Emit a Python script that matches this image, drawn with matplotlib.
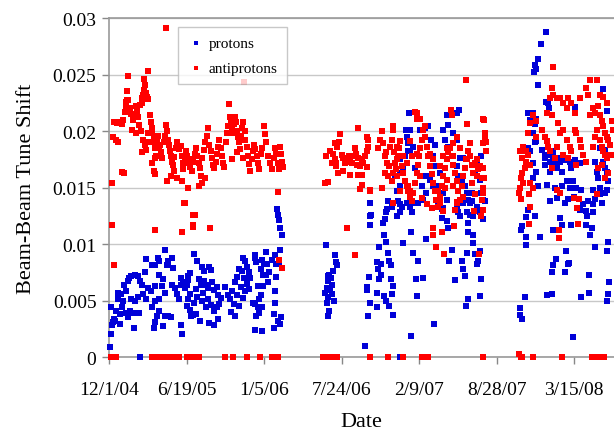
import pandas as pd
import matplotlib
matplotlib.use("Agg")
import matplotlib.pyplot as plt

# days since 12/1/04, tune shift in units of 1e-4
start_date = pd.Timestamp("2004-12-01")
tick_days = [0, 200, 400, 600, 800, 1000, 1200]
y_ticks = [0, 0.005, 0.01, 0.015, 0.02, 0.025, 0.03]
y_tick_labels = ["0", "0.005", "0.01", "0.015", "0.02", "0.025", "0.03"]

protons_run1 = [
    (3, 9), (6, 20), (8, 28), (5, 44), (10, 31), (13, 34), (15, 32), (19, 41), (22, 51), (28, 29),
    (28, 38), (33, 44), (37, 50), (24, 57), (30, 56), (43, 58), (40, 64), (48, 67), (52, 70), (58, 72),
    (67, 73), (76, 72), (80, 67), (84, 64), (93, 75), (44, 39), (55, 41), (50, 35), (62, 39), (70, 39),
    (78, 39), (64, 26), (57, 51), (68, 50), (76, 53), (88, 56), (95, 51), (100, 61), (108, 58), (95, 87),
    (110, 81), (119, 81), (126, 88), (128, 85), (149, 81), (151, 85), (153, 81), (162, 88), (166, 79), (145, 95),
    (128, 73), (140, 69), (118, 63), (136, 63), (145, 57), (130, 51), (118, 50), (112, 44), (128, 41), (124, 36),
    (118, 31), (115, 26), (145, 36), (152, 36), (160, 35), (162, 64), (170, 61), (175, 56), (180, 51), (185, 64),
    (190, 66), (187, 70), (196, 61), (203, 72), (210, 74), (205, 68), (200, 64), (210, 56), (205, 51), (200, 45),
    (208, 42), (212, 36), (225, 38), (217, 37), (220, 48), (228, 53), (225, 60), (237, 64), (232, 69), (245, 67),
    (250, 64), (242, 57), (255, 61), (265, 66), (270, 59), (278, 62), (282, 55), (288, 52), (285, 47), (278, 44),
    (270, 41), (262, 46), (255, 51), (250, 44), (240, 50), (188, 20), (185, 28), (140, 27), (220, 91), (226, 85),
    (240, 80), (246, 76), (258, 80), (264, 77), (236, 32), (270, 28), (280, 34), (258, 30), (300, 62), (306, 55),
    (312, 51), (318, 58), (325, 66), (330, 71), (336, 78), (345, 88), (350, 85), (342, 76), (348, 70), (356, 80),
    (360, 75), (365, 70), (355, 65), (340, 62), (330, 55), (322, 47), (316, 40), (325, 36), (335, 45), (345, 52),
    (352, 58), (360, 60), (377, 90), (377, 88), (380, 84), (405, 93), (395, 86), (400, 82), (407, 82), (392, 78),
    (398, 73), (405, 73), (384, 63), (392, 55), (398, 63), (388, 51), (372, 48), (378, 47), (385, 44), (394, 44),
    (388, 39), (380, 36), (377, 24), (394, 23), (429, 90), (431, 82), (432, 71), (429, 58), (429, 48), (425, 38),
    (436, 32), (425, 26), (442, 29), (444, 35), (440, 95), (434, 131), (436, 126), (438, 121), (442, 114), (446, 108),
    (438, 83), (420, 86), (414, 75), (410, 66), (80, 0),
]

antiprotons_run1 = [
    (7, 154), (33, 164), (39, 163), (11, 195), (19, 192), (24, 190), (12, 208), (20, 207), (28, 208), (33, 206),
    (37, 210), (41, 217), (45, 220), (43, 226), (47, 227), (47, 235), (48, 249), (50, 227), (54, 220), (58, 215),
    (62, 210), (60, 201), (65, 214), (69, 222), (72, 218), (76, 212), (80, 223), (84, 229), (88, 232), (91, 246),
    (94, 241), (96, 234), (98, 230), (100, 253), (101, 228), (90, 236), (86, 225), (78, 205), (70, 198), (82, 200),
    (88, 192), (92, 188), (96, 183), (85, 181), (100, 198), (104, 190), (8, 117), (13, 81),
    (106, 214), (108, 208), (110, 203), (112, 198), (115, 193), (118, 188), (120, 185), (124, 190), (126, 196), (122, 178),
    (118, 176), (112, 172), (115, 165), (118, 162), (128, 185), (132, 188), (135, 181), (138, 176), (142, 190), (145, 196),
    (146, 291), (148, 205), (150, 200), (152, 192), (155, 188), (158, 182), (160, 178), (163, 173), (165, 170), (168, 177),
    (172, 185), (176, 190), (180, 184), (160, 160), (150, 156), (168, 165), (175, 158), (119, 112),
    (185, 187), (188, 178), (190, 172), (194, 136), (197, 136), (188, 111), (192, 166), (195, 176), (198, 182), (202, 178),
    (205, 172), (208, 168), (212, 175), (216, 126), (222, 126), (216, 117), (218, 115), (215, 165), (218, 173), (222, 180),
    (225, 185), (228, 178), (232, 172), (235, 167), (238, 160), (240, 176), (244, 183), (248, 190), (252, 196), (255, 203),
    (258, 188), (261, 114), (262, 182), (265, 176), (268, 170), (272, 167), (275, 173), (278, 180), (282, 186), (285, 192),
    (288, 185), (292, 178), (295, 172), (298, 168), (248, 158), (232, 151), (188, 156), (205, 150), (240, 154),
    (302, 190), (305, 198), (308, 204), (310, 224), (312, 212), (315, 209), (318, 203), (320, 198), (322, 206), (325, 212),
    (328, 208), (330, 200), (332, 195), (335, 190), (338, 184), (340, 196), (342, 203), (345, 208), (348, 243), (350, 200),
    (352, 192), (355, 186), (358, 178), (345, 176), (330, 181), (318, 175), (362, 171), (365, 165), (368, 175), (372, 182),
    (375, 188), (378, 184), (382, 178), (385, 172), (388, 166), (392, 180), (396, 185), (400, 204), (402, 197), (405, 190),
    (410, 178), (415, 172), (420, 166), (425, 176), (428, 185), (430, 180), (435, 172), (438, 166), (440, 186), (443, 180),
    (446, 173), (449, 168), (437, 146), (439, 86), (446, 79),
    (5, 0), (12, 0), (18, 0), (110, 0), (115, 0), (120, 0), (125, 0), (130, 0), (136, 0), (150, 0),
    (166, 0), (172, 0), (180, 0), (202, 0), (208, 0), (215, 0), (225, 0), (232, 0), (300, 0), (320, 0),
    (356, 0), (390, 0), (420, 0), (426, 0), (432, 0), (436, 0),
]

protons_run2 = [
    (561, 99), (583, 90), (585, 84), (588, 81), (566, 72), (568, 73), (572, 70), (565, 67), (562, 61), (570, 59),
    (558, 57), (565, 53), (575, 56), (580, 50), (562, 48), (568, 41), (566, 36), (575, 64), (578, 76),
    (660, 10), (668, 36), (673, 48), (666, 62), (666, 59), (670, 71), (673, 117), (674, 125), (673, 136), (691, 44),
    (692, 57), (697, 69), (694, 78), (692, 84), (696, 97), (701, 73), (703, 82), (708, 119), (712, 122), (715, 128),
    (710, 108), (716, 102), (720, 92), (722, 85), (728, 81), (728, 69), (733, 63), (733, 37), (723, 45), (716, 50),
    (729, 56), (710, 54), (742, 125), (751, 135), (751, 128), (759, 101), (780, 111), (785, 92), (780, 19), (793, 69),
    (797, 85), (795, 54), (810, 70), (819, 104), (838, 29), (850, 136), (858, 123), (862, 132), (871, 120), (875, 114),
    (884, 95), (878, 85), (893, 68), (897, 133), (901, 128), (906, 125), (910, 85), (914, 78), (919, 72), (921, 45),
    (927, 51), (923, 92), (927, 111), (927, 119), (931, 126), (936, 138), (940, 108), (940, 101), (944, 91), (949, 82),
    (953, 85), (957, 94), (961, 69), (957, 54), (966, 122), (970, 138), (957, 128), (949, 133),
    (675, 126), (721, 138), (718, 131), (729, 133), (746, 138), (755, 133), (768, 136), (777, 133), (790, 136), (781, 128),
    (742, 147), (751, 151), (738, 160), (751, 163), (759, 166), (751, 175), (764, 178), (772, 182), (777, 201), (766, 201),
    (768, 195), (772, 189), (777, 182), (781, 178), (785, 186), (790, 167), (774, 216),
    (802, 201), (815, 203), (823, 204), (832, 192), (841, 188), (837, 178), (845, 169), (854, 163), (850, 151), (862, 145),
    (871, 139), (858, 131), (850, 136), (819, 145), (811, 139), (798, 136), (807, 151), (819, 160), (828, 157), (837, 151),
    (871, 214), (875, 205), (862, 201), (867, 192), (875, 186), (888, 198), (897, 192), (904, 219), (897, 216), (906, 176),
    (914, 176), (897, 169), (901, 160), (910, 157), (918, 151), (923, 145), (927, 139), (914, 136), (906, 139), (931, 136),
    (940, 125), (923, 128), (936, 145), (957, 157), (961, 178), (966, 189), (970, 194), (961, 145), (966, 139), (961, 128),
    (944, 163), (949, 172), (751, 0),
]

antiprotons_run2 = [
    (557, 154), (566, 155), (560, 178), (570, 182), (579, 180), (575, 172), (583, 175), (587, 169), (592, 163), (589, 186),
    (594, 190), (596, 197), (583, 189), (600, 179), (605, 176), (609, 172), (613, 175), (618, 178), (622, 173), (626, 172),
    (630, 178), (635, 185), (637, 180), (643, 176), (639, 170), (648, 169), (652, 175), (656, 172), (660, 178), (665, 182),
    (669, 186), (665, 195), (669, 192), (643, 203), (652, 161), (643, 161), (622, 161), (605, 165), (652, 152), (673, 147),
    (665, 168), (587, 172), (614, 114), (635, 90),
    (695, 185), (699, 192), (704, 200), (708, 189), (712, 178), (716, 181), (718, 172), (723, 169), (725, 186), (729, 192),
    (732, 204), (734, 201), (735, 181), (738, 172), (740, 166), (742, 160), (746, 178), (749, 185), (751, 191), (755, 169),
    (759, 163), (764, 156), (768, 151), (772, 147), (777, 142), (781, 138), (785, 145), (789, 154), (794, 163), (798, 170),
    (801, 178), (802, 185), (807, 192), (811, 201), (815, 195), (820, 186), (824, 178), (828, 169), (833, 162), (837, 154),
    (841, 147), (845, 139), (850, 133), (854, 142), (858, 151), (863, 160), (867, 167), (871, 175), (875, 181), (880, 185),
    (884, 178), (888, 170), (893, 163), (897, 156), (901, 147), (906, 139), (910, 151), (914, 160), (918, 167), (921, 175),
    (925, 206), (923, 175), (921, 245), (927, 182), (931, 178), (936, 170), (940, 163), (944, 172), (949, 175), (953, 166),
    (957, 169), (962, 158), (966, 189), (970, 194), (964, 211), (796, 216), (794, 211), (882, 219), (884, 214), (887, 189),
    (897, 195), (789, 217), (777, 191), (815, 204), (742, 186), (721, 160), (729, 156), (751, 147), (759, 178), (768, 172),
    (936, 154), (949, 160), (966, 145), (962, 139), (914, 142), (897, 136), (888, 151), (871, 157), (854, 169), (837, 175),
    (802, 160), (781, 178), (734, 163), (712, 163), (704, 150), (802, 211), (871, 185), (906, 185), (931, 189), (888, 178),
    (863, 178), (828, 180), (794, 180), (742, 175), (968, 210), (970, 198), (972, 190), (974, 182), (966, 167), (968, 158),
    (648, 149), (673, 148), (734, 136), (772, 151), (777, 147), (807, 141), (820, 135), (833, 132), (837, 114), (837, 108),
    (858, 111), (845, 97), (865, 91), (891, 116), (897, 137), (944, 144), (942, 129), (961, 125), (954, 91), (966, 150),
    (966, 130), (893, 130), (862, 129), (850, 147), (867, 150), (854, 136),
    (552, 0), (558, 0), (566, 0), (575, 0), (588, 0), (673, 0), (720, 0), (759, 0), (807, 0), (823, 0), (965, 0),
]

protons_run3 = [
    (1127, 288), (1114, 277), (1108, 264), (1099, 258), (1103, 255), (1096, 252), (1106, 241), (1127, 226), (1095, 216), (1097, 209),
    (1099, 206), (1103, 211), (1095, 198), (1099, 190), (1275, 237), (1284, 218), (1202, 221), (1133, 225), (1136, 220), (1082, 216),
    (1086, 210), (1090, 198),
    (1082, 185), (1086, 182), (1103, 191), (1116, 183), (1125, 179), (1133, 179), (1138, 173), (1146, 182), (1151, 173), (1164, 176),
    (1176, 174), (1189, 173), (1202, 174), (1215, 172), (1155, 167), (1168, 164), (1138, 164), (1125, 170), (1095, 172), (1095, 158),
    (1103, 164), (1108, 151), (1129, 152), (1151, 150), (1168, 151), (1181, 156), (1189, 150), (1198, 156), (1206, 150), (1219, 148),
    (1258, 164), (1254, 173), (1262, 158), (1267, 185), (1275, 173), (1279, 167), (1284, 164), (1288, 156), (1267, 150), (1279, 183),
    (1193, 167), (1164, 173), (1146, 178), (1125, 176),
    (1060, 43), (1060, 37), (1065, 34), (1073, 53), (1077, 99), (1077, 106), (1062, 112), (1066, 116), (1077, 124), (1082, 130),
    (1099, 125), (1112, 106), (1146, 112), (1153, 87), (1146, 81), (1142, 75), (1131, 55), (1142, 56), (1179, 94), (1185, 82),
    (1187, 83), (1176, 75), (1198, 18), (1219, 53), (1239, 57), (1239, 73), (1254, 97), (1284, 94), (1288, 102), (1290, 66),
    (1287, 56), (1284, 50), (1168, 117), (1191, 117), (1164, 123), (1155, 141), (1138, 138), (1232, 117), (1241, 108), (1245, 114),
    (1234, 125), (1249, 128), (1215, 130), (1223, 135), (1232, 129), (1236, 138), (1249, 135), (1254, 140), (1267, 144), (1271, 136),
    (1279, 145), (1284, 148), (1250, 148), (1200, 142), (1185, 140), (1176, 136),
]

antiprotons_run3 = [
    (1060, 150), (1062, 158), (1065, 163), (1069, 154), (1073, 167), (1077, 173), (1060, 182), (1065, 176), (1069, 186), (1077, 182),
    (1082, 179), (1086, 170), (1086, 154), (1095, 150), (1082, 198), (1086, 207), (1095, 214), (1103, 209), (1103, 195), (1116, 201),
    (1125, 195), (1129, 191), (1133, 186), (1138, 182), (1129, 216), (1142, 214), (1146, 257), (1142, 238), (1146, 232), (1138, 229),
    (1155, 229), (1164, 229), (1172, 225), (1181, 220), (1185, 229), (1193, 225), (1202, 216), (1215, 229), (1232, 238), (1236, 232),
    (1241, 245), (1249, 220), (1254, 216), (1241, 214), (1159, 207), (1164, 198), (1172, 201), (1181, 192), (1189, 186), (1193, 182),
    (1202, 201), (1206, 198), (1215, 192), (1219, 186), (1223, 179), (1232, 173), (1206, 170), (1185, 176), (1172, 179), (1155, 186),
    (1151, 176), (1142, 167), (1267, 214), (1271, 209), (1275, 204), (1279, 198), (1284, 195), (1288, 192), (1292, 188), (1267, 192),
    (1271, 186), (1275, 182), (1279, 179), (1284, 176), (1271, 170), (1262, 167), (1258, 201), (1254, 195), (1249, 186), (1288, 163),
    (1279, 158), (1297, 209), (1300, 201), (1295, 179), (1284, 225), (1262, 222), (1258, 245), (1275, 230), (1267, 232),
    (1058, 145), (1062, 140), (1084, 118), (1161, 112), (1161, 105), (1210, 118), (1207, 132), (1213, 140), (1200, 141), (1259, 144),
    (1164, 145), (1157, 148), (1086, 133), (1084, 144),
    (1058, 3), (1062, 0), (1065, 0), (1093, 0), (1168, 0), (1246, 0), (1252, 0), (1258, 0), (1264, 0), (1270, 0), (1277, 0),
]

protons = protons_run1 + protons_run2 + protons_run3
antiprotons = antiprotons_run1 + antiprotons_run2 + antiprotons_run3

plt.rcParams['font.family'] = ['Liberation Serif', 'DejaVu Serif']

fig = plt.figure(figsize=(6.14, 4.35), dpi=100)
ax = fig.add_axes([0.1775, 0.177, 0.8225, 0.7793])

ax.scatter([d for d, v in protons], [v / 1e4 for d, v in protons],
           marker='s', s=19, color='#0000d8', linewidths=0, label='protons', clip_on=False, zorder=3)
ax.scatter([d for d, v in antiprotons], [v / 1e4 for d, v in antiprotons],
           marker='s', s=19, color='#ff0000', linewidths=0, label='antiprotons', clip_on=False, zorder=4)

ax.set_xlim(0, 1303)
ax.set_ylim(0, 0.03)
ax.set_xticks(tick_days)
ax.set_xticklabels([
    f"{(start_date + pd.Timedelta(days=d)).month}/{(start_date + pd.Timedelta(days=d)).day}/"
    f"{(start_date + pd.Timedelta(days=d)).strftime('%y')}" for d in tick_days])
ax.set_yticks(y_ticks)
ax.set_yticklabels(y_tick_labels)
ax.tick_params(axis='both', labelsize=14, colors='#888888', labelcolor='black', length=5, width=1, pad=4)
ax.tick_params(axis='x', pad=12)

ax.yaxis.grid(True, color='#c8c8c8', linewidth=1)
ax.set_axisbelow(True)
for side in ['left', 'bottom', 'top']:
    ax.spines[side].set_color('#999999')
    ax.spines[side].set_linewidth(1.2)
ax.spines['right'].set_visible(False)

ax.set_xlabel('Date', fontsize=16, labelpad=10)
ax.set_ylabel('Beam-Beam Tune Shift', fontsize=16, labelpad=12)

leg = ax.legend(loc='upper left', bbox_to_anchor=(178 / 614, 1 - 28 / 435), bbox_transform=fig.transFigure,
                fontsize=11, frameon=True, fancybox=False, borderaxespad=0, handletextpad=0.2,
                labelspacing=0.75, borderpad=0.6, markerscale=0.7, handlelength=1.2)
leg.get_frame().set_edgecolor('#bbbbbb')
leg.get_frame().set_linewidth(1)

fig.savefig('out.png', dpi=100)
